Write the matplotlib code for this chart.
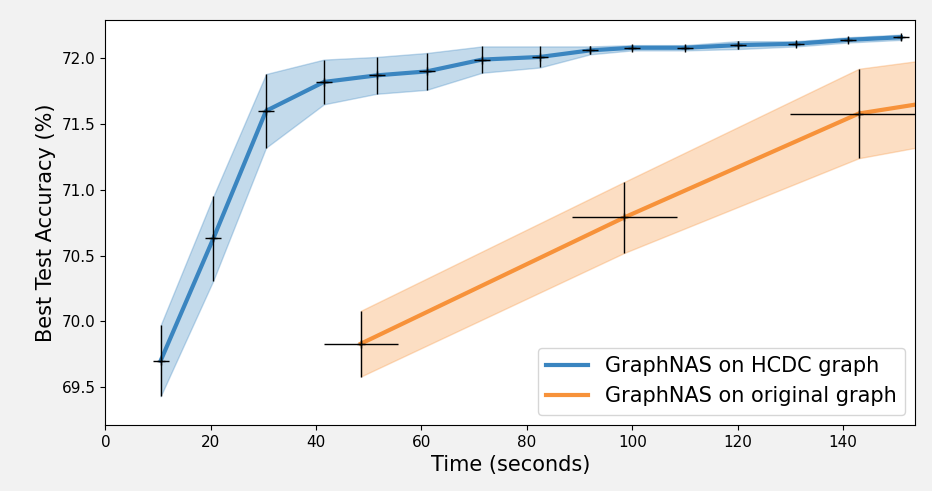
import matplotlib.pyplot as plt
import numpy as np

# HCDC graph series
hcdc_t = [10.5, 20.5, 30.5, 41.5, 51.5, 61, 71.5, 82.5, 92, 100, 110, 120, 131, 141, 151]
hcdc_acc = [69.70, 70.63, 71.60, 71.82, 71.87, 71.90, 71.99, 72.01, 72.06, 72.08, 72.08, 72.10, 72.11, 72.14, 72.16]
hcdc_err = [0.27, 0.32, 0.28, 0.17, 0.14, 0.14, 0.10, 0.08, 0.03, 0.02, 0.02, 0.03, 0.02, 0.02, 0.02]
hcdc_terr = [1.5] * 15

# original graph series (last point lies past the right edge)
orig_t = [48.5, 98.5, 143, 162]
orig_acc = [69.83, 70.79, 71.58, 71.70]
orig_err = [0.25, 0.27, 0.34, 0.32]
orig_terr = [7, 10, 13, 0]

BLUE = '#3a85c0'
ORANGE = '#f7923a'

fig = plt.figure(figsize=(9.32, 4.91), dpi=100, facecolor='#f2f2f2')
ax = fig.add_axes([0.113, 0.134, 0.869, 0.825])

for t, acc, err, terr, c, lab in [
        (hcdc_t, hcdc_acc, hcdc_err, hcdc_terr, BLUE, 'GraphNAS on HCDC graph'),
        (orig_t, orig_acc, orig_err, orig_terr, ORANGE, 'GraphNAS on original graph')]:
    t, acc, err = np.array(t), np.array(acc), np.array(err)
    ax.fill_between(t, acc - err, acc + err, color=c, alpha=0.3)
    ax.plot(t, acc, color=c, lw=3, label=lab)
    ax.errorbar(t, acc, yerr=err, xerr=terr, fmt='+', color='black',
                ecolor='black', elinewidth=1, ms=6)

ax.set_xlim(0, 153.7)
ax.set_ylim(69.21, 72.29)
ax.set_yticks([69.5, 70.0, 70.5, 71.0, 71.5, 72.0])
ax.set_xlabel('Time (seconds)', fontsize=15)
ax.set_ylabel('Best Test Accuracy (%)', fontsize=15)
ax.tick_params(labelsize=11)
ax.legend(loc='lower right', fontsize=15)

fig.savefig('out.png', dpi=100, facecolor=fig.get_facecolor())
